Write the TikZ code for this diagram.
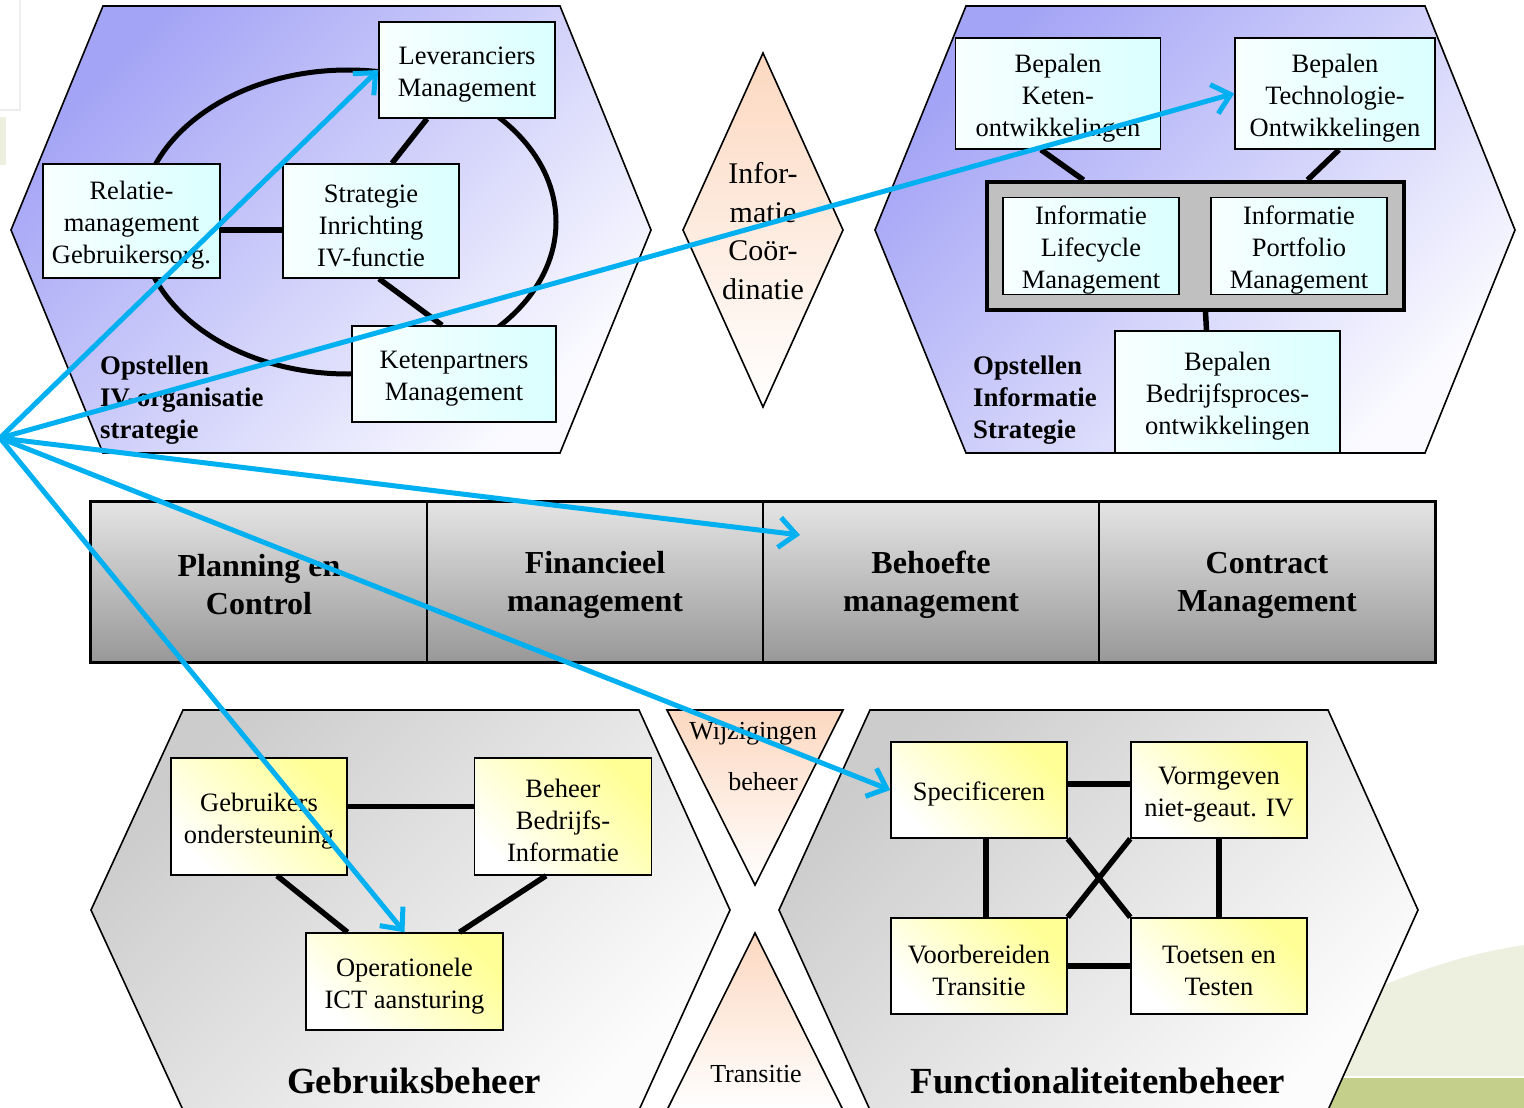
\documentclass[tikz,border=0pt]{standalone}
\usepackage{fontspec}
\setmainfont{Liberation Serif}
\usetikzlibrary{arrows.meta,calc}
\definecolor{hexblueD}{RGB}{164,164,246}
\definecolor{hexblueL}{RGB}{250,250,255}
\definecolor{hexgrayD}{RGB}{204,204,204}
\definecolor{hexgrayL}{RGB}{252,252,252}
\definecolor{cyanbox}{RGB}{218,255,255}
\definecolor{cyanboxL}{RGB}{248,255,255}
\definecolor{yelbox}{RGB}{255,255,150}
\definecolor{peach}{RGB}{252,216,192}
\definecolor{bandtop}{RGB}{228,228,228}
\definecolor{bandbot}{RGB}{152,152,152}
\definecolor{contgray}{RGB}{192,192,192}
\definecolor{arrowblue}{RGB}{0,176,240}
\definecolor{greenL}{RGB}{237,239,223}
\definecolor{olive}{RGB}{195,207,139}
\definecolor{wmgray}{RGB}{238,238,238}
\newcommand\myboxfont{\fontsize{26.5}{32}\selectfont}
\newcommand\mylabfont{\fontsize{26.8}{32}\selectfont\bfseries}
\newcommand\mybandfont{\fontsize{32}{38}\selectfont\bfseries}
\newcommand\mytitlefont{\fontsize{36.8}{40}\selectfont\bfseries}
\newcommand\mydiafont{\fontsize{30}{38.5}\selectfont}
\newcommand\mytrifont{\fontsize{26}{32}\selectfont}
\newcommand\fs{\rule{0pt}{27pt}}
\newcommand\bs{\rule{0pt}{28pt}}
\begin{document}
\begin{tikzpicture}[x=1pt,y=-1pt,
  bluehex/.style={draw,line width=1.6pt,top color=hexblueD,bottom color=hexblueL,shading angle=45},
  grayhex/.style={draw,line width=1.6pt,top color=hexgrayD,bottom color=hexgrayL,shading angle=45},
  peachfill/.style={draw,line width=1.6pt,top color=peach,bottom color=white},
  box/.style={draw,line width=1.5pt,inner sep=0pt,align=center,font=\myboxfont},
  cbox/.style={box,left color=cyanboxL,right color=cyanbox},
  ybox/.style={box,top color=yelbox,bottom color=white,shading angle=-45},
  bandcell/.style={draw,line width=1.6pt,inner sep=0pt,align=center,font=\mybandfont,
     top color=bandtop,bottom color=bandbot,minimum width=336pt,minimum height=160pt},
  link/.style={line width=5.5pt},
  hexlabel/.style={anchor=west,align=left,font=\mylabfont,inner sep=0pt},
  arr/.style={draw=arrowblue,line width=5pt,-{Straight Barb[length=17pt,width=30pt]}}
]
\useasboundingbox (0,0) rectangle (1524,1108);
\clip (0,0) rectangle (1524,1108);
\fill[white] (0,0) rectangle (1524,1108);
% background decorations
\draw[wmgray,line width=2pt] (-5,-5) rectangle (20,110);
\fill[greenL] (0,117) rectangle (6,165);
\fill[greenL] (1330,1010) .. controls (1400,975) and (1460,955) .. (1524,945) -- (1524,1076) -- (1330,1076) -- cycle;
\fill[olive] (1330,1078) rectangle (1524,1108);

% hexagons
\path[bluehex] (103,6) -- (560,6) -- (651,230) -- (560,453) -- (103,453) -- (11,230) -- cycle;
\path[bluehex] (966,6) -- (1425,6) -- (1515,230) -- (1425,453) -- (966,453) -- (875,230) -- cycle;
\path[grayhex] (183,710) -- (639,710) -- (730,910) -- (639,1110) -- (183,1110) -- (91,910) -- cycle;
\path[grayhex] (870,710) -- (1328,710) -- (1418,910) -- (1328,1110) -- (870,1110) -- (779,910) -- cycle;

% diamond and triangles
\path[peachfill] (763,53) -- (843,230) -- (763,407) -- (683,230) -- cycle;
\node[font=\mydiafont,align=center,inner sep=0pt] (dia) at (763,231) {Infor-\\matie\\Coör-\\dinatie};
\path[peachfill] (667,710) -- (843,710) -- (755,885) -- cycle;
\node[font=\mytrifont,inner sep=0pt] (wij1) at (753,734) {Wijzigingen};
\node[font=\mytrifont,inner sep=0pt] (wij2) at (763,782) {beheer};
\path[peachfill] (755,933) -- (843,1110) -- (667,1110) -- cycle;
\node[font=\mytrifont,inner sep=0pt] (trans) at (756,1074) {Transitie};

% band
\node[bandcell] (pc) at (259,582) {\bs Planning en\\Control};
\node[bandcell] (fin) at (595,582) {\bs Financieel\\management};
\node[bandcell] (bhm) at (931,582) {\bs Behoefte\\management};
\node[bandcell] (cm) at (1267,582) {\bs Contract\\Management};
\draw[line width=3pt] (pc.north west) rectangle (cm.south east);

% top-left hexagon content
\draw[line width=5pt] (348,222) ellipse [x radius=208, y radius=152];
\node[cbox,minimum width=176pt,minimum height=96pt] (lev) at (467,70) {\fs Leveranciers\\Management};
\node[cbox,minimum width=177pt,minimum height=114pt] (rel) at (131.5,221) {\fs Relatie-\\management\\Gebruikersorg.};
\node[cbox,minimum width=176pt,minimum height=114pt] (strat) at (371,221) {\fs Strategie\\Inrichting\\IV-functie};
\node[cbox,minimum width=204pt,minimum height=96pt] (ket) at (454,374) {\fs Ketenpartners\\Management};
\draw[link] ($(rel.east)+(0,9)$) -- ($(strat.west)+(0,9)$);
\draw[link] ($(lev.south)+(-40,0)$) -- ($(strat.north)+(21,0)$);
\draw[link] ($(strat.south)+(8,0)$) -- ($(ket.north)+(-12,0)$);
\node[hexlabel] (lab1) at (100,400) {Opstellen\\IV-organisatie\\strategie};

% top-right hexagon content
\node[cbox,minimum width=205pt,minimum height=111pt] (keten) at (1058,93.5) {\fs Bepalen\\Keten-\\ontwikkelingen};
\node[cbox,minimum width=200pt,minimum height=111pt] (tech) at (1335,93.5) {\fs Bepalen\\Technologie-\\Ontwikkelingen};
\node[draw,line width=4pt,fill=contgray,minimum width=417pt,minimum height=128pt,inner sep=0pt] (cont) at (1195.5,246) {};
\node[cbox,minimum width=176pt,minimum height=96pt] (ilm) at (1091,246) {\fs Informatie\\Lifecycle\\Management};
\node[cbox,minimum width=176pt,minimum height=96pt] (ipm) at (1299,246) {\fs Informatie\\Portfolio\\Management};
\node[cbox,minimum width=225pt,minimum height=122pt] (bed) at (1227.5,392) {\fs Bepalen\\Bedrijfsproces-\\ontwikkelingen};
\draw[link] ($(keten.south)+(-17,0)$) -- ($(cont.north)+(-112,0)$);
\draw[link] ($(tech.south)+(4,0)$) -- ($(cont.north)+(112,0)$);
\draw[link] ($(cont.south)+(10,0)$) -- ($(bed.north)+(-21,0)$);
\node[hexlabel] (lab2) at (973,400) {Opstellen\\Informatie\\Strategie};

% bottom-left hexagon content
\node[ybox,minimum width=176pt,minimum height=117pt] (geb) at (259,816.5) {\fs Gebruikers\\ondersteuning};
\node[ybox,minimum width=177pt,minimum height=117pt] (behi) at (563,816.5) {\fs Beheer\\Bedrijfs-\\Informatie};
\node[ybox,minimum width=197pt,minimum height=97pt] (op) at (404.5,981.5) {\fs Operationele\\ICT aansturing};
\draw[link] ($(geb.south)+(18,0)$) -- ($(op.north)+(-57,0)$);
\draw[link] ($(behi.south)+(-17,0)$) -- ($(op.north)+(55,0)$);
\draw[link] ($(geb.east)+(0,-10)$) -- ($(behi.west)+(0,-10)$);
\node[font=\mytitlefont,inner sep=0pt] (t1) at (414,1081) {Gebruiksbeheer};

% bottom-right hexagon content
\node[ybox,minimum width=176pt,minimum height=96pt] (spec) at (979,790) {\fs Specificeren};
\node[ybox,minimum width=176pt,minimum height=96pt] (vorm) at (1219,790) {\fs Vormgeven\\niet-geaut. IV};
\node[ybox,minimum width=176pt,minimum height=96pt] (voorb) at (979,966) {\fs Voorbereiden\\Transitie};
\node[ybox,minimum width=176pt,minimum height=96pt] (toets) at (1219,966) {\fs Toetsen en\\Testen};
\draw[link] ($(spec.east)+(0,-6)$) -- ($(vorm.west)+(0,-6)$);
\draw[link] (voorb.east) -- (toets.west);
\draw[link] ($(spec.south)+(7,0)$) -- ($(voorb.north)+(7,0)$);
\draw[link] (vorm.south) -- (toets.north);
\draw[link] (spec.south east) -- (toets.north west);
\draw[link] (vorm.south west) -- (voorb.north east);
\node[font=\mytitlefont,inner sep=0pt] (t2) at (1098,1081) {Functionaliteitenbeheer};

% blue arrows
\coordinate (orig) at (0,438);
\coordinate (bhmtip) at (800,535);
\draw[arr] (orig) -- (lev.west);
\draw[arr] (orig) -- (tech.west);
\draw[arr] (orig) -- (bhmtip);
\draw[arr] (orig) -- (spec.west);
\draw[arr] (orig) -- (op.north);
\end{tikzpicture}
\end{document}
